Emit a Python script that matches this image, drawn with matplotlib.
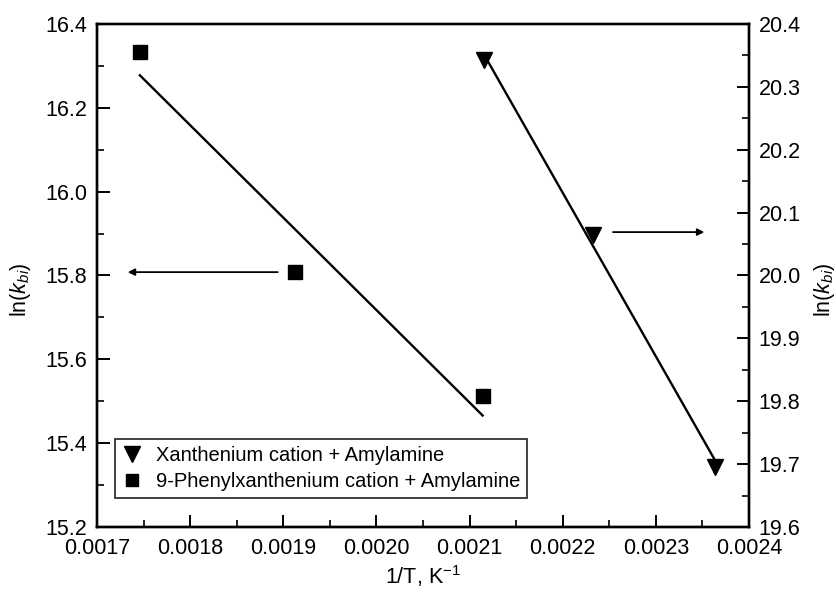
import numpy as np
import matplotlib
matplotlib.use("Agg")
import matplotlib.pyplot as plt
from matplotlib.lines import Line2D

plt.rcParams['font.family'] = ['Liberation Sans', 'DejaVu Sans']
plt.rcParams['mathtext.fontset'] = 'custom'
plt.rcParams['mathtext.rm'] = 'Liberation Sans'
plt.rcParams['mathtext.it'] = 'Liberation Sans:italic'

# Data
x_phenyl = [0.001746, 0.001913, 0.002114]
y_phenyl = [16.333, 15.808, 15.512]
x_xanth = [0.002115, 0.002233, 0.002364]
y_xanth = [20.343, 20.064, 19.696]

label_xanth = "Xanthenium cation + Amylamine"
label_phenyl = "9-Phenylxanthenium cation + Amylamine"

xticks = [0.0017, 0.0018, 0.0019, 0.0020, 0.0021, 0.0022, 0.0023, 0.0024]
yticks_left = [15.2, 15.4, 15.6, 15.8, 16.0, 16.2, 16.4]
yticks_right = [19.6, 19.7, 19.8, 19.9, 20.0, 20.1, 20.2, 20.3, 20.4]

fs = 15.5
fig = plt.figure(figsize=(8.37, 5.92), dpi=100)
ax = fig.add_axes([0.1159, 0.1098, 0.8949 - 0.1159, 0.9595 - 0.1098])
ax2 = ax.twinx()

# Phenylxanthenium (left axis)
p = np.polyfit(x_phenyl, y_phenyl, 1)
xf = np.array([min(x_phenyl), max(x_phenyl)])
ax.plot(xf, np.polyval(p, xf), color='black', lw=1.7)
ax.plot(x_phenyl, y_phenyl, 's', color='black', ms=10, ls='none')

# Xanthenium (right axis)
q = np.polyfit(x_xanth, y_xanth, 1)
xq = np.array([min(x_xanth), max(x_xanth)])
ax2.plot(xq, np.polyval(q, xq), color='black', lw=1.7)
ax2.plot(x_xanth, y_xanth, 'v', color='black', ms=11, ls='none')

# Arrows
ax.annotate('', xy=(0.00173, 15.808), xytext=(0.001897, 15.808),
            arrowprops=dict(arrowstyle='-|>', color='black', lw=1.3,
                            mutation_scale=10))
ax2.annotate('', xy=(0.002355, 20.069), xytext=(0.002251, 20.069),
             arrowprops=dict(arrowstyle='-|>', color='black', lw=1.3,
                             mutation_scale=10))

ax.set_xlim(0.0017, 0.0024)
ax.set_ylim(15.2, 16.4)
ax2.set_ylim(19.6, 20.4)
ax.set_xticks(xticks)
ax.set_xticklabels([f"{v:.4f}" for v in xticks])
ax.set_yticks(yticks_left)
ax.set_yticklabels([f"{v:.1f}" for v in yticks_left])
ax2.set_yticks(yticks_right)
ax2.set_yticklabels([f"{v:.1f}" for v in yticks_right])

ax.set_xticks(np.arange(0.00175, 0.0024, 0.0001), minor=True)
ax.set_yticks(np.arange(15.3, 16.4, 0.2), minor=True)
ax2.set_yticks(np.arange(19.65, 20.4, 0.1), minor=True)

for a in (ax, ax2):
    a.tick_params(which='major', direction='in', length=9, width=1.4,
                  labelsize=fs, pad=7)
    a.tick_params(which='minor', direction='in', length=5, width=1.2)
    for s in a.spines.values():
        s.set_linewidth(1.7)
ax.tick_params(axis='y', which='both', right=False)
ax.tick_params(axis='x', which='both', top=False, pad=8)
ax2.tick_params(axis='y', which='both', left=False)

ax.set_xlabel("1/T, K$^{\\mathregular{-1}}$", fontsize=fs, labelpad=3)
ax.set_ylabel("ln($k_{bi}$)", fontsize=fs)
ax2.set_ylabel("ln($k_{bi}$)", fontsize=fs)
ax.yaxis.set_label_coords(-0.098, 0.471)
ax2.yaxis.set_label_coords(1.0966, 0.471)

handles = [Line2D([], [], marker='v', color='black', ls='none', ms=11),
           Line2D([], [], marker='s', color='black', ls='none', ms=9)]
leg = ax.legend(handles, [label_xanth, label_phenyl], loc='lower left',
                bbox_to_anchor=(0.027, 0.058), fontsize=14.5, frameon=True,
                fancybox=False, edgecolor='black', handlelength=1.0,
                handletextpad=0.7, borderpad=0.35, labelspacing=0.35,
                borderaxespad=0)
leg.get_frame().set_linewidth(1.3)

fig.savefig("out.png", dpi=100)
